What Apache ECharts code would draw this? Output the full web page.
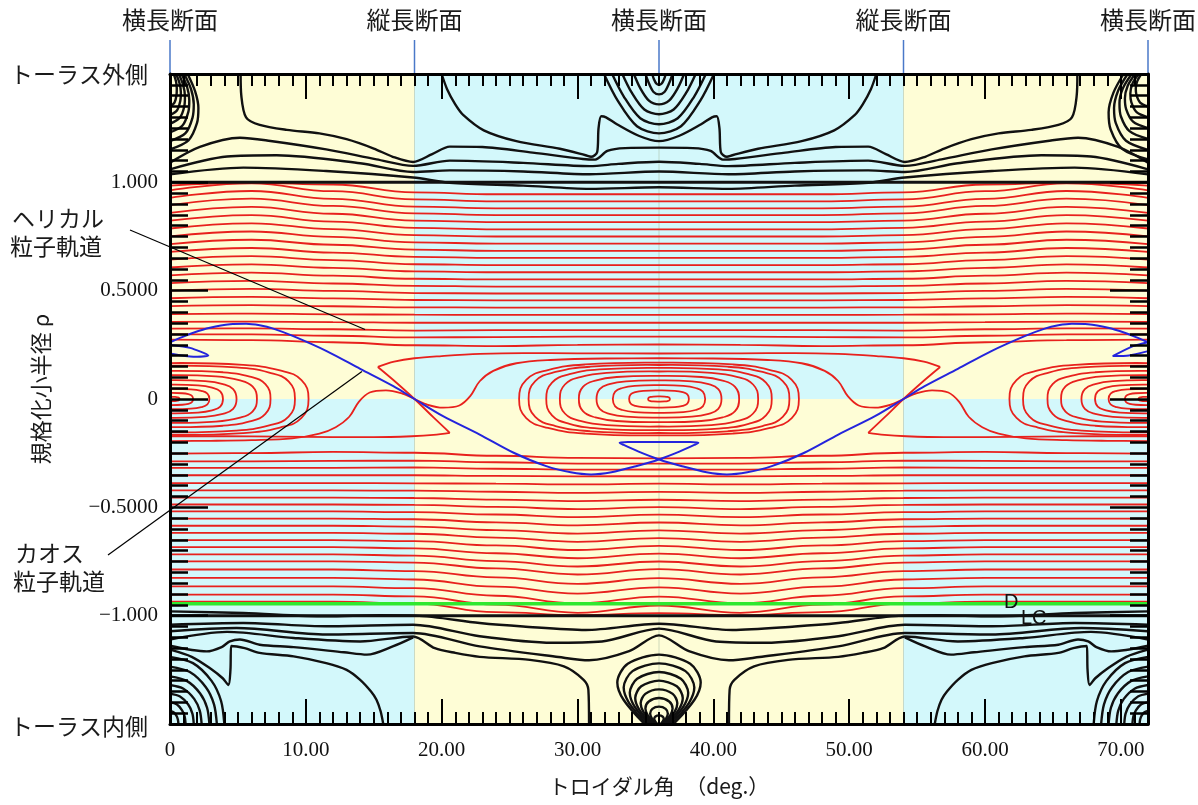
<!DOCTYPE html>
<html>
<head>
<meta charset="utf-8">
<title>トロイダル角と規格化小半径</title>
<script src="https://cdn.jsdelivr.net/npm/echarts/dist/echarts.min.js"></script>
<style>
html,body{margin:0;padding:0;background:#ffffff;}
#chart{width:1198px;height:805px;}
</style>
</head>
<body>
<div id="chart"></div>
<script>
// ---------------- data ----------------
// toroidal angle knots (deg) shared by the open flux-surface traces
const xKnots = [0, 6, 12, 18, 24, 30, 36, 42, 48, 54, 60, 66, 72];

// open flux surfaces above the island chain (rho at each knot)
const upperSurfaces = [
  [0.985,0.998,0.990,0.954,0.945,0.945,0.945,0.945,0.945,0.954,0.990,0.998,0.985],
  [0.963,0.995,0.959,0.921,0.912,0.912,0.912,0.912,0.912,0.921,0.959,0.995,0.963],
  [0.928,0.960,0.924,0.888,0.880,0.880,0.880,0.880,0.880,0.888,0.924,0.960,0.928],
  [0.895,0.925,0.891,0.857,0.849,0.849,0.849,0.849,0.849,0.857,0.891,0.925,0.895],
  [0.859,0.887,0.855,0.823,0.816,0.816,0.816,0.816,0.816,0.823,0.855,0.887,0.859],
  [0.823,0.849,0.819,0.790,0.783,0.783,0.783,0.783,0.783,0.790,0.819,0.849,0.823],
  [0.787,0.811,0.784,0.756,0.750,0.750,0.750,0.750,0.750,0.756,0.784,0.811,0.787],
  [0.751,0.773,0.748,0.723,0.717,0.717,0.717,0.717,0.717,0.723,0.748,0.773,0.751],
  [0.715,0.735,0.712,0.689,0.684,0.684,0.684,0.684,0.684,0.689,0.712,0.735,0.715],
  [0.679,0.697,0.676,0.656,0.651,0.651,0.651,0.651,0.651,0.656,0.676,0.697,0.679],
  [0.643,0.659,0.641,0.622,0.618,0.618,0.618,0.618,0.618,0.622,0.641,0.659,0.643],
  [0.607,0.621,0.605,0.589,0.585,0.585,0.585,0.585,0.585,0.589,0.605,0.621,0.607],
  [0.571,0.583,0.569,0.555,0.552,0.552,0.552,0.552,0.552,0.555,0.569,0.583,0.571],
  [0.535,0.545,0.533,0.522,0.519,0.519,0.519,0.519,0.519,0.522,0.533,0.545,0.535],
  [0.500,0.508,0.499,0.489,0.487,0.487,0.487,0.487,0.487,0.489,0.499,0.508,0.500],
  [0.465,0.471,0.464,0.457,0.455,0.455,0.455,0.455,0.455,0.457,0.464,0.471,0.465],
  [0.429,0.433,0.428,0.423,0.422,0.422,0.422,0.422,0.422,0.423,0.428,0.433,0.429],
  [0.392,0.394,0.391,0.389,0.388,0.388,0.388,0.388,0.388,0.389,0.391,0.394,0.392],
  [0.356,0.357,0.355,0.352,0.352,0.352,0.352,0.352,0.352,0.352,0.355,0.357,0.356],
  [0.325,0.326,0.322,0.316,0.318,0.318,0.318,0.318,0.318,0.316,0.322,0.326,0.325],
  [0.298,0.298,0.292,0.284,0.286,0.288,0.288,0.288,0.286,0.284,0.292,0.298,0.298],
  [0.274,0.272,0.262,0.248,0.244,0.250,0.252,0.250,0.244,0.248,0.262,0.272,0.274]
];

// open flux surfaces below the island chain
const lowerSurfaces = [
  [-0.252,-0.250,-0.244,-0.248,-0.262,-0.272,-0.274,-0.272,-0.262,-0.248,-0.244,-0.250,-0.252],
  [-0.288,-0.288,-0.286,-0.284,-0.292,-0.298,-0.298,-0.298,-0.292,-0.284,-0.286,-0.288,-0.288],
  [-0.318,-0.318,-0.318,-0.316,-0.322,-0.326,-0.325,-0.326,-0.322,-0.316,-0.318,-0.318,-0.318],
  [-0.352,-0.352,-0.352,-0.352,-0.355,-0.357,-0.356,-0.357,-0.355,-0.352,-0.352,-0.352,-0.352],
  [-0.388,-0.388,-0.388,-0.389,-0.391,-0.394,-0.391,-0.394,-0.391,-0.389,-0.388,-0.388,-0.388],
  [-0.422,-0.422,-0.422,-0.423,-0.428,-0.433,-0.429,-0.433,-0.428,-0.423,-0.422,-0.422,-0.422],
  [-0.455,-0.455,-0.455,-0.457,-0.464,-0.471,-0.465,-0.471,-0.464,-0.457,-0.455,-0.455,-0.455],
  [-0.487,-0.487,-0.487,-0.489,-0.498,-0.508,-0.499,-0.508,-0.498,-0.489,-0.487,-0.487,-0.487],
  [-0.519,-0.519,-0.519,-0.522,-0.533,-0.545,-0.534,-0.545,-0.533,-0.522,-0.519,-0.519,-0.519],
  [-0.552,-0.552,-0.552,-0.555,-0.569,-0.583,-0.570,-0.583,-0.569,-0.555,-0.552,-0.552,-0.552],
  [-0.585,-0.585,-0.585,-0.589,-0.605,-0.621,-0.606,-0.621,-0.605,-0.589,-0.585,-0.585,-0.585],
  [-0.618,-0.618,-0.618,-0.622,-0.640,-0.659,-0.642,-0.659,-0.640,-0.622,-0.618,-0.618,-0.618],
  [-0.651,-0.651,-0.651,-0.656,-0.676,-0.697,-0.678,-0.697,-0.676,-0.656,-0.651,-0.651,-0.651],
  [-0.684,-0.684,-0.684,-0.689,-0.712,-0.735,-0.714,-0.735,-0.712,-0.689,-0.684,-0.684,-0.684],
  [-0.717,-0.717,-0.717,-0.723,-0.748,-0.773,-0.750,-0.773,-0.748,-0.723,-0.717,-0.717,-0.717],
  [-0.749,-0.749,-0.749,-0.755,-0.782,-0.810,-0.785,-0.810,-0.782,-0.755,-0.749,-0.749,-0.749],
  [-0.787,-0.787,-0.787,-0.794,-0.823,-0.853,-0.827,-0.853,-0.823,-0.794,-0.787,-0.787,-0.787],
  [-0.826,-0.826,-0.826,-0.833,-0.866,-0.898,-0.869,-0.898,-0.866,-0.833,-0.826,-0.826,-0.826],
  [-0.865,-0.865,-0.865,-0.873,-0.908,-0.943,-0.912,-0.943,-0.908,-0.873,-0.865,-0.865,-0.865],
  [-0.903,-0.903,-0.903,-0.911,-0.949,-0.987,-0.953,-0.987,-0.949,-0.911,-0.903,-0.903,-0.903],
  [-0.935,-0.935,-0.935,-0.944,-0.984,-0.998,-0.988,-0.998,-0.984,-0.944,-0.935,-0.935,-0.935]
];

// magnetic island rings: [centre angle, half width (deg), half height (rho)]
const islandRingsMid = [
  [36,10.3,0.168],[36,9.6,0.157],[36,8.3,0.144],[36,7.3,0.127],[36,5.9,0.107],
  [36,4.6,0.086],[36,3.4,0.064],[36,2.2,0.040],[36,0.8,0.012]
];
const islandRingsLeft = [
  [0,10.2,0.166],[0,9.2,0.154],[0,7.4,0.130],[0,6.4,0.110],[0,4.9,0.087],
  [0,3.9,0.066],[0,2.9,0.047],[0,1.7,0.028],[0,0.7,0.010]
];
const islandRingsRight = [
  [72,10.2,0.166],[72,9.2,0.154],[72,7.4,0.130],[72,6.4,0.110],[72,4.9,0.087],
  [72,3.9,0.066],[72,2.9,0.047],[72,1.7,0.028],[72,0.7,0.010]
];

// separatrix traces through the X-points at 18 and 54 deg
const separatrixTraces = [
  [[15.3,0.148],[16.5,0.172],[18,0.188],[20,0.198],[22.8,0.208],[26,0.212],[30,0.211],[36,0.21],[42,0.211],[46,0.212],[49.2,0.208],[52,0.198],[54,0.188],[55.5,0.172],[56.7,0.148]],
  [[15.3,0.148],[16.4,0.09],[18,0],[19.4,-0.085],[20.6,-0.156]],
  [[56.7,0.148],[55.6,0.09],[54,0],[52.6,-0.085],[51.4,-0.156]],
  [[20.6,-0.156],[19.4,-0.166],[17.8,-0.172],[15,-0.176],[12,-0.176],[8,-0.174],[4,-0.172],[0,-0.172]],
  [[51.4,-0.156],[52.6,-0.166],[54.2,-0.172],[57,-0.176],[60,-0.176],[64,-0.174],[68,-0.172],[72,-0.172]],
  [[18,0],[18.9,-0.025],[20.1,-0.04],[21.3,-0.03],[22.1,0.013],[22.8,0.082],[23.8,0.13],[25.5,0.165],[28,0.18],[32,0.187],[36,0.188],[40,0.187],[44,0.18],[46.5,0.165],[48.2,0.13],[49.2,0.082],[49.9,0.013],[50.7,-0.03],[51.9,-0.04],[53.1,-0.025],[54,0]],
  [[18,0],[17.1,0.025],[15.9,0.04],[14.7,0.03],[13.9,-0.013],[13.2,-0.082],[12.2,-0.13],[11,-0.16],[9,-0.182],[6,-0.19],[3,-0.193],[0,-0.194]],
  [[54,0],[54.9,0.025],[56.1,0.04],[57.3,0.03],[58.1,-0.013],[58.8,-0.082],[59.8,-0.13],[61,-0.16],[63,-0.182],[66,-0.19],[69,-0.193],[72,-0.194]]
];

// field-line contours outside the last closed surface, outer (top) side
const outerContoursTop = [
  [[5.2,1.50],[5.25,1.40],[5.6,1.30],[6.6,1.265],[8.6,1.242],[11,1.226],[13,1.199],[15,1.156],[16.4,1.118],[17.9,1.094],[19.3,1.13],[20.6,1.165],[23,1.163],[26.7,1.137],[30.4,1.108],[31.3,1.105],[32.2,1.145],[33.5,1.158],[36,1.16],[38.5,1.158],[39.8,1.145],[40.7,1.105],[41.6,1.108],[45.3,1.137],[49,1.163],[51.4,1.165],[52.7,1.13],[54.1,1.094],[55.6,1.118],[57,1.156],[59,1.199],[61,1.226],[63.4,1.242],[65.4,1.265],[66.4,1.30],[66.75,1.40],[66.8,1.50]],
  [[20.0,1.50],[20.4,1.43],[21.0,1.36],[21.6,1.31],[23.1,1.24],[25.5,1.19],[28.7,1.155],[30.6,1.125],[31.0,1.118],[31.45,1.14],[31.55,1.25],[31.75,1.305],[32.1,1.30],[32.9,1.268],[34.5,1.215],[36,1.19],[37.5,1.215],[39.1,1.268],[39.9,1.30],[40.25,1.305],[40.45,1.25],[40.55,1.14],[41.0,1.118],[41.4,1.125],[43.3,1.155],[46.5,1.19],[48.9,1.24],[50.4,1.31],[51.0,1.36],[51.6,1.43],[52.0,1.50]],
  [[0,1.091],[2.2,1.164],[5.15,1.206],[7.4,1.191],[11.5,1.152],[15.2,1.106],[17.9,1.076],[20.6,1.10],[26,1.09],[30.9,1.075],[33,1.085],[36,1.095],[39,1.085],[41.1,1.075],[46,1.09],[51.4,1.10],[54.1,1.076],[56.8,1.106],[60.5,1.152],[64.6,1.191],[66.85,1.206],[69.8,1.164],[72,1.091]],
  [[0,1.060],[4.2,1.119],[7.85,1.125],[14,1.088],[17.9,1.048],[20.6,1.055],[26,1.05],[30.9,1.037],[36,1.05],[41.1,1.037],[46,1.05],[51.4,1.055],[54.1,1.048],[58,1.088],[64.15,1.125],[67.8,1.119],[72,1.06]],
  [[0,1.037],[5.4,1.068],[11.5,1.052],[17.9,1.022],[20.6,0.998],[26,0.985],[30.9,0.97],[36,0.977],[41.1,0.97],[46,0.985],[51.4,0.998],[54.1,1.022],[60.5,1.052],[66.6,1.068],[72,1.037]],
  [[35.5,1.5],[35.62,1.477],[35.8,1.456],[36,1.45],[36.2,1.456],[36.38,1.477],[36.5,1.5]],
  [[35.0,1.5],[35.25,1.458],[35.6,1.417],[36,1.406],[36.4,1.417],[36.75,1.458],[37.0,1.5]],
  [[34.15,1.5],[34.6,1.437],[35.26,1.377],[36,1.36],[36.74,1.377],[37.4,1.437],[37.85,1.5]],
  [[33.3,1.5],[33.97,1.416],[34.92,1.336],[36,1.314],[37.08,1.336],[38.03,1.416],[38.7,1.5]],
  [[32.55,1.5],[33.41,1.396],[34.62,1.296],[36,1.268],[37.38,1.296],[38.59,1.396],[39.45,1.5]],
  [[31.95,1.5],[32.96,1.377],[34.38,1.259],[36,1.226],[37.62,1.259],[39.04,1.377],[40.05,1.5]],
  [[0,1.152],[1.36,1.194],[1.99,1.274],[2.09,1.343],[1.85,1.42],[1.3,1.5]],
  [[0,1.19],[1.14,1.227],[1.66,1.299],[1.75,1.36],[1.55,1.43],[1.05,1.5]],
  [[0,1.23],[0.92,1.262],[1.35,1.325],[1.42,1.379],[1.26,1.44],[0.85,1.5]],
  [[0,1.27],[0.72,1.298],[1.05,1.35],[1.1,1.397],[0.97,1.449],[0.65,1.5]],
  [[0,1.31],[0.52,1.333],[0.76,1.377],[0.8,1.415],[0.7,1.458],[0.45,1.5]],
  [[0,1.35],[0.33,1.368],[0.48,1.403],[0.5,1.433],[0.44,1.466],[0.28,1.5]],
  [[72,1.106],[70.12,1.153],[69.25,1.244],[69.1,1.323],[69.45,1.413],[70.2,1.5]],
  [[72,1.15],[70.38,1.192],[69.63,1.273],[69.5,1.343],[69.8,1.423],[70.5,1.5]],
  [[72,1.2],[70.64,1.236],[70.0,1.305],[69.9,1.365],[70.15,1.434],[70.8,1.5]],
  [[72,1.25],[70.9,1.28],[70.39,1.338],[70.3,1.388],[70.5,1.445],[71.05,1.5]],
  [[72,1.3],[71.16,1.324],[70.77,1.37],[70.7,1.41],[70.86,1.456],[71.3,1.5]],
  [[72,1.35],[71.42,1.368],[71.15,1.403],[71.1,1.433],[71.21,1.467],[71.5,1.5]]
];

// field-line contours outside the last closed surface, inner (bottom) side
const outerContoursBottom = [
  [[0,-0.98],[5.4,-0.988],[11.5,-1.003],[15.4,-0.998],[18.1,-1.0],[22.8,-1.034],[26,-1.05],[30.6,-1.066],[36,-1.037],[41.4,-1.066],[46,-1.05],[49.2,-1.034],[53.9,-1.0],[56.6,-0.998],[60.5,-1.003],[66.6,-0.988],[72,-0.98]],
  [[0,-1.042],[5.4,-1.034],[11.5,-1.049],[17.9,-1.042],[22.8,-1.095],[28.15,-1.125],[31.8,-1.119],[36,-1.06],[40.2,-1.119],[43.85,-1.125],[49.2,-1.095],[54.1,-1.042],[60.5,-1.049],[66.6,-1.034],[72,-1.042]],
  [[0,-1.072],[4.9,-1.057],[11.5,-1.087],[17.9,-1.08],[22.8,-1.142],[28.6,-1.191],[30.85,-1.206],[33.8,-1.164],[36,-1.091],[38.2,-1.164],[41.15,-1.206],[43.4,-1.191],[49.2,-1.142],[54.1,-1.08],[60.5,-1.087],[67.1,-1.057],[72,-1.072]],
  [[0,-1.11],[4.2,-1.075],[9.1,-1.103],[14,-1.119],[17.9,-1.096],[19.5,-1.15],[21,-1.172],[22.8,-1.19],[26.5,-1.204],[29,-1.234],[30.45,-1.296],[30.8,-1.342],[30.85,-1.50]],
  [[72,-1.11],[67.8,-1.075],[62.9,-1.103],[58,-1.119],[54.1,-1.096],[52.5,-1.15],[51,-1.172],[49.2,-1.19],[45.5,-1.204],[43,-1.234],[41.55,-1.296],[41.2,-1.342],[41.15,-1.50]],
  [[0,-1.139],[2.7,-1.165],[3.8,-1.145],[4.4,-1.119],[5.15,-1.11],[6.6,-1.134],[9.1,-1.145],[12.8,-1.169],[14.5,-1.18],[16.4,-1.142],[17.9,-1.1]],
  [[72,-1.139],[69.3,-1.165],[68.2,-1.145],[67.6,-1.119],[66.85,-1.11],[65.4,-1.134],[62.9,-1.145],[59.2,-1.169],[57.5,-1.18],[55.6,-1.142],[54.1,-1.1]],
  [[0,-1.157],[1.6,-1.19],[3.0,-1.245],[3.9,-1.29],[4.3,-1.32],[4.45,-1.25],[4.5,-1.14],[5.5,-1.15],[6.6,-1.172],[9.1,-1.188],[11.5,-1.219],[13.0,-1.25],[14,-1.296],[14.8,-1.35],[15.2,-1.388],[15.5,-1.44],[15.7,-1.5]],
  [[72,-1.157],[70.4,-1.19],[69.0,-1.245],[68.1,-1.29],[67.7,-1.32],[67.55,-1.25],[67.5,-1.14],[66.5,-1.15],[65.4,-1.172],[62.9,-1.188],[60.5,-1.219],[59.0,-1.25],[58,-1.296],[57.2,-1.35],[56.8,-1.388],[56.5,-1.44],[56.3,-1.5]],
  [[0,-1.19],[1.69,-1.219],[3.06,-1.301],[3.76,-1.394],[4.0,-1.5]],
  [[0,-1.235],[1.46,-1.26],[2.64,-1.33],[3.24,-1.409],[3.45,-1.5]],
  [[0,-1.28],[1.23,-1.301],[2.22,-1.359],[2.73,-1.425],[2.9,-1.5]],
  [[0,-1.32],[0.99,-1.337],[1.78,-1.384],[2.19,-1.438],[2.33,-1.5]],
  [[0,-1.36],[0.74,-1.373],[1.34,-1.41],[1.65,-1.452],[1.75,-1.5]],
  [[0,-1.40],[0.49,-1.409],[0.88,-1.436],[1.08,-1.466],[1.15,-1.5]],
  [[0,-1.44],[0.26,-1.446],[0.47,-1.461],[0.58,-1.479],[0.62,-1.5]],
  [[72,-1.19],[70.31,-1.219],[68.94,-1.301],[68.24,-1.394],[68.0,-1.5]],
  [[72,-1.235],[70.54,-1.26],[69.36,-1.33],[68.76,-1.409],[68.55,-1.5]],
  [[72,-1.28],[70.77,-1.301],[69.78,-1.359],[69.27,-1.425],[69.1,-1.5]],
  [[72,-1.32],[71.01,-1.337],[70.22,-1.384],[69.81,-1.438],[69.67,-1.5]],
  [[72,-1.36],[71.26,-1.373],[70.66,-1.41],[70.35,-1.452],[70.25,-1.5]],
  [[72,-1.40],[71.51,-1.409],[71.12,-1.436],[70.92,-1.466],[70.85,-1.5]],
  [[72,-1.44],[71.74,-1.446],[71.53,-1.461],[71.42,-1.479],[71.38,-1.5]],
  [[34.93,-1.5],[33.39,-1.388],[32.93,-1.308],[33.7,-1.222],[36,-1.18],[38.3,-1.222],[39.07,-1.308],[38.61,-1.388],[37.07,-1.5]],
  [[35.09,-1.5],[33.79,-1.402],[33.4,-1.332],[34.05,-1.256],[36,-1.22],[37.95,-1.256],[38.6,-1.332],[38.21,-1.402],[36.91,-1.5]],
  [[35.25,-1.5],[34.17,-1.416],[33.85,-1.356],[34.39,-1.291],[36,-1.26],[37.61,-1.291],[38.15,-1.356],[37.83,-1.416],[36.75,-1.5]],
  [[35.39,-1.5],[34.51,-1.43],[34.25,-1.38],[34.69,-1.326],[36,-1.3],[37.31,-1.326],[37.75,-1.38],[37.49,-1.43],[36.61,-1.5]],
  [[35.53,-1.5],[34.85,-1.444],[34.65,-1.404],[34.99,-1.361],[36,-1.34],[37.01,-1.361],[37.35,-1.404],[37.15,-1.444],[36.47,-1.5]],
  [[35.65,-1.5],[35.15,-1.458],[35.0,-1.428],[35.25,-1.396],[36,-1.38],[36.75,-1.396],[37.0,-1.428],[36.85,-1.458],[36.35,-1.5]],
  [[35.77,-1.5],[35.45,-1.472],[35.35,-1.452],[35.51,-1.43],[36,-1.42],[36.49,-1.43],[36.65,-1.452],[36.55,-1.472],[36.23,-1.5]],
  [[35.88,-1.5],[35.7,-1.486],[35.65,-1.476],[35.74,-1.465],[36,-1.46],[36.26,-1.465],[36.35,-1.476],[36.3,-1.486],[36.12,-1.5]]
];

// last closed flux surface rho = +1 / -1
const lcfsTraces = [
  [[0,1],[72,1]],
  [[0,-1],[72,-1]]
];

// loss-cone boundary D_LC
const lossConeBoundary = [[0,-0.945],[72,-0.945]];

// helical particle orbit
const helicalOrbit = [
  [0,0.262],[0.74,0.282],[1.72,0.306],[2.94,0.329],[4.42,0.345],[5.6,0.347],[6.6,0.34],[7.6,0.325],[9.08,0.29],[11.53,0.221],[14.0,0.139],[16.44,0.059],[18,0.0],[20.1,-0.079],[22.8,-0.164],[25.3,-0.248],[27.7,-0.31],[29.5,-0.338],[31,-0.348],[32.5,-0.338],[34.3,-0.31],[36,-0.279],[37.5,-0.243],[38.6,-0.212],[38.9,-0.202],[38.3,-0.199],[36,-0.199],[33.7,-0.199],[33.1,-0.202],[33.4,-0.212],[34.5,-0.243],[36,-0.279],[37.7,-0.31],[39.5,-0.338],[41,-0.348],[42.5,-0.338],[44.3,-0.31],[46.7,-0.248],[49.2,-0.164],[51.9,-0.079],[54,0],[55.56,0.059],[58,0.139],[60.47,0.221],[62.92,0.29],[64.4,0.325],[65.4,0.34],[66.4,0.347],[67.58,0.345],[69.06,0.329],[70.28,0.306],[71.26,0.282],[72,0.262]
];
const helicalOrbitEnds = [
  [[0,0.25],[1.47,0.236],[2.82,0.201],[1.72,0.195],[0,0.21]],
  [[72,0.262],[70.9,0.244],[69.4,0.198],[70.6,0.201],[72,0.221]]
];

// background sectors: [x0, x1, rho0, rho1, colour index]
const sectorBands = [
  [0,18,0,1.5,0],[18,54,0,1.5,1],[54,72,0,1.5,0],
  [0,18,-1.5,0,1],[18,54,-1.5,0,0],[54,72,-1.5,0,1]
];
const sectorGuides = [18, 36, 54];

// cross-section markers along the top
const sectionAngles = [0, 18, 36, 54, 72];
const sectionNames = ['横長断面', '縦長断面', '横長断面', '縦長断面', '横長断面'];

// points the annotation leaders reach
const leaderTargets = [[14.36, 0.321], [14.13, 0.127]];

// tick labels
const xTickLabels = {0: '0', 10: '10.00', 20: '20.00', 30: '30.00', 40: '40.00', 50: '50.00', 60: '60.00', 70: '70.00'};
const yTickLabels = {'1': '1.000', '0.5': '0.5000', '0': '0', '-0.5': '\u22120.5000', '-1': '\u22121.000'};

// ---------------- drawing ----------------
const RED = '#e8211d', BLACK = '#111111', BLUE = '#2424dc', GREEN = '#2fe82f';
const BAND_COLORS = ['#fefdd6', '#d3f8fb'];
const JP = '"Noto Sans CJK JP", sans-serif';
const SERIF = '"Liberation Serif", "DejaVu Serif", serif';

// unit outline of an island ring (rounded oval), traversed anticlockwise from +x
const RING = [[1,0],[0.949,0.527],[0.794,0.794],[0.527,0.949],[0,1],[-0.527,0.949],[-0.794,0.794],[-0.949,0.527],
              [-1,0],[-0.949,-0.527],[-0.794,-0.794],[-0.527,-0.949],[0,-1],[0.527,-0.949],[0.794,-0.794],[0.949,-0.527]];
const RING_RIGHT_HALF = [4,3,2,1,0,15,14,13,12].map(i => RING[i]);
const RING_LEFT_HALF = [4,5,6,7,8,9,10,11,12].map(i => RING[i]);

function trace(points, color, width, z, smooth, mono) {
  const s = {
    type: 'line', data: points, symbol: 'none', showSymbol: false,
    smooth: smooth, lineStyle: {color: color, width: width},
    z: z, silent: true, animation: false, clip: true
  };
  if (mono) s.smoothMonotone = mono;
  return s;
}

const series = [];

// sector shading
series.push({
  type: 'custom', z: 0, silent: true, animation: false,
  data: sectorBands, encode: {x: [0, 1], y: [2, 3]},
  renderItem: function (params, api) {
    const a = api.coord([api.value(0), api.value(3)]);
    const b = api.coord([api.value(1), api.value(2)]);
    return {type: 'rect', shape: {x: a[0], y: a[1], width: b[0] - a[0], height: b[1] - a[1]},
            style: {fill: BAND_COLORS[api.value(4)]}};
  }
});
series.push({
  type: 'custom', z: 1, silent: true, animation: false,
  data: sectorGuides.map(x => [x, 0]),
  renderItem: function (params, api) {
    const a = api.coord([api.value(0), 1.5]);
    const b = api.coord([api.value(0), -1.5]);
    return {type: 'line', shape: {x1: a[0], y1: a[1], x2: b[0], y2: b[1]},
            style: {stroke: 'rgba(170,190,165,0.55)', lineWidth: 1}};
  }
});

// flux surfaces
upperSurfaces.concat(lowerSurfaces).forEach(row => {
  series.push(trace(row.map((v, i) => [xKnots[i], v]), RED, 1.8, 2, 0.45, 'x'));
});
separatrixTraces.forEach(p => series.push(trace(p, RED, 1.8, 2, 0.35)));

// island rings
series.push({
  type: 'custom', z: 2, silent: true, animation: false,
  data: islandRingsMid.map(r => r.concat(0))
        .concat(islandRingsLeft.map(r => r.concat(1)))
        .concat(islandRingsRight.map(r => r.concat(-1))),
  renderItem: function (params, api) {
    const cx = api.value(0), hw = api.value(1), hh = api.value(2), side = api.value(3);
    const outline = side === 0 ? RING : (side > 0 ? RING_RIGHT_HALF : RING_LEFT_HALF);
    const pts = outline.map(uv => api.coord([cx + hw * uv[0], hh * uv[1]]));
    return {type: side === 0 ? 'polygon' : 'polyline', shape: {points: pts, smooth: 0.45},
            style: {fill: 'none', stroke: RED, lineWidth: 1.8}};
  }
});

// outer contours
outerContoursTop.concat(outerContoursBottom).forEach(p => series.push(trace(p, BLACK, 2.4, 3, 0.3)));
lcfsTraces.forEach(p => series.push(trace(p, BLACK, 3, 3, false)));

// loss-cone boundary
series.push(trace(lossConeBoundary, GREEN, 3.6, 4, false));

// helical orbit
series.push(trace(helicalOrbit, BLUE, 2, 5, 0.3));
helicalOrbitEnds.forEach(p => series.push(trace(p, BLUE, 2, 5, 0.2)));

// cross-section markers and names above the frame
series.push({
  type: 'custom', z: 6, silent: true, animation: false, clip: false,
  data: sectionAngles.map(x => [x, 1.5]),
  renderItem: function (params, api) {
    const p = api.coord([api.value(0), 1.5]);
    return {type: 'group', children: [
      {type: 'line', shape: {x1: p[0], y1: p[1] - 34, x2: p[0], y2: p[1]},
       style: {stroke: '#4a78c8', lineWidth: 1.5}},
      {type: 'text', x: p[0], y: p[1] - 54,
       style: {text: sectionNames[params.dataIndex], font: '24px ' + JP, fill: '#1a1a1a',
               align: 'center', verticalAlign: 'middle', textAlign: 'center', textVerticalAlign: 'middle'}}
    ]};
  }
});

// leaders from the side captions into the plot
const leaderStarts = [[130, 230], [108, 555]];
series.push({
  type: 'custom', z: 6, silent: true, animation: false, clip: false,
  data: leaderTargets,
  renderItem: function (params, api) {
    const p = api.coord([api.value(0), api.value(1)]);
    const s = leaderStarts[params.dataIndex];
    return {type: 'line', shape: {x1: s[0], y1: s[1], x2: p[0], y2: p[1]},
            style: {stroke: '#000', lineWidth: 1.2}};
  }
});

// axes: a major and a minor axis on each side so both tick sets point inwards
const frameLine = {show: true, onZero: false, lineStyle: {color: '#000', width: 3}};
const hiddenLine = {show: false, onZero: false};
const xAxisDef = (pos, interval, tickLen, labels) => ({
  type: 'value', position: pos, min: 0, max: 72, interval: interval, z: 10,
  axisLine: interval === 10 ? frameLine : hiddenLine,
  axisTick: {show: true, inside: true, length: tickLen, lineStyle: {color: '#000', width: 2}},
  axisLabel: labels ? {
    show: true, margin: 16, color: '#111', fontFamily: SERIF, fontSize: 21,
    formatter: v => (xTickLabels[v] !== undefined ? xTickLabels[v] : '')
  } : {show: false},
  splitLine: {show: false}
});
const yAxisDef = (pos, interval, tickLen, labels) => ({
  type: 'value', position: pos, min: -1.5, max: 1.5, interval: interval, z: 10,
  axisLine: interval === 0.5 ? frameLine : hiddenLine,
  axisTick: {show: true, inside: true, length: tickLen, lineStyle: {color: '#000', width: 2.5}},
  axisLabel: labels ? {
    show: true, margin: 12, color: '#111', fontFamily: SERIF, fontSize: 21,
    formatter: v => {
      const k = String(Math.round(v * 10) / 10);
      return yTickLabels[k] !== undefined ? yTickLabels[k] : '';
    }
  } : {show: false},
  splitLine: {show: false}
});

const xBottom = xAxisDef('bottom', 10, 25, true);
xBottom.name = 'トロイダル角　（deg.）';
xBottom.nameLocation = 'middle';
xBottom.nameGap = 52;
xBottom.nameTextStyle = {fontFamily: JP, fontSize: 21, color: '#1a1a1a'};

const yLeft = yAxisDef('left', 0.5, 38, true);
yLeft.name = '規格化小半径 ρ';
yLeft.nameLocation = 'middle';
yLeft.nameGap = 118;
yLeft.nameTextStyle = {fontFamily: JP, fontSize: 22, color: '#1a1a1a', padding: [0, 0, 0, 20]};

const chart = echarts.init(document.getElementById('chart'), null, {renderer: 'canvas'});
chart.setOption({
  animation: false,
  backgroundColor: '#ffffff',
  textStyle: {fontFamily: JP},
  grid: {left: 170, top: 74, width: 978, height: 650, containLabel: false},
  xAxis: [xBottom, xAxisDef('bottom', 1, 12, false), xAxisDef('top', 10, 25, false), xAxisDef('top', 1, 12, false)],
  yAxis: [yLeft, yAxisDef('left', 0.05, 18, false), yAxisDef('right', 0.5, 38, false), yAxisDef('right', 0.05, 18, false)],
  series: series,
  graphic: [
    {type: 'text', left: 10, top: 63, style: {text: 'トーラス外側', font: '23px ' + JP, fill: '#1a1a1a'}},
    {type: 'text', left: 10, top: 715, style: {text: 'トーラス内側', font: '23px ' + JP, fill: '#1a1a1a'}},
    {type: 'text', left: 12, top: 207, style: {text: 'ヘリカル', font: '23px ' + JP, fill: '#1a1a1a'}},
    {type: 'text', left: 10, top: 235, style: {text: '粒子軌道', font: '23px ' + JP, fill: '#1a1a1a'}},
    {type: 'text', left: 15, top: 542, style: {text: 'カオス', font: '23px ' + JP, fill: '#1a1a1a'}},
    {type: 'text', left: 13, top: 570, style: {text: '粒子軌道', font: '23px ' + JP, fill: '#1a1a1a'}},
    {type: 'text', left: 1004, top: 592, z: 20, style: {text: 'D', font: '20px "Liberation Sans", sans-serif', fill: '#111'}},
    {type: 'text', left: 1021, top: 608, z: 20, style: {text: 'LC', font: '20px "Liberation Sans", sans-serif', fill: '#111'}}
  ]
});
</script>
</body>
</html>
